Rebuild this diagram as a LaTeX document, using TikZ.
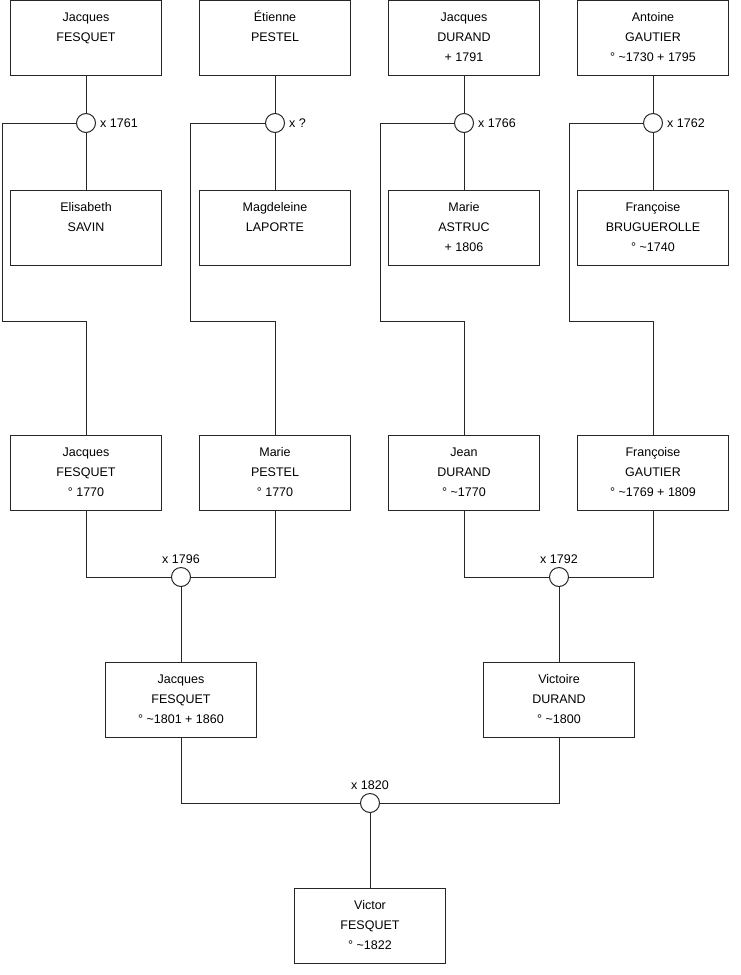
\documentclass[tikz,border=0pt]{standalone}
\usepackage{fontspec}
\setmainfont{Liberation Sans}
\usetikzlibrary{positioning}

\begin{document}
\begin{tikzpicture}[
    x=1pt, y=-1pt,
    font=\fontsize{12.5}{20}\selectfont,
    person/.style={
        rectangle, draw=black!85, line width=1pt,
        fill=white, inner sep=0pt,
        minimum width=151pt, minimum height=75pt,
        execute at begin node={\begin{minipage}[c][75pt][t]{151pt}\centering\rule{0pt}{20.5pt}},
        execute at end node={\end{minipage}}
    },
    union/.style={
        circle, draw=black!85, line width=1pt,
        fill=white, minimum size=19pt, inner sep=0pt
    },
    line/.style={draw=black!85, line width=1pt}
]
\useasboundingbox (0,0) rectangle (740,975);

% -------------------------
% 1. Great-grandparents
% -------------------------
\node[person] (JacquesF1) at (86, 38) {Jacques\\FESQUET};
\node[person] (EtienneP) at (275, 38) {Étienne\\PESTEL};
\node[person] (JacquesD) at (464, 38) {Jacques\\DURAND\\+ 1791};
\node[person] (AntoineG) at (653, 38) {Antoine\\GAUTIER\\° \textasciitilde1730 + 1795};

\node[union, label={[inner sep=4pt]right:x 1761}] (U1) at (86, 123) {};
\node[union, label={[inner sep=4pt]right:x ?}] (U2) at (275, 123) {};
\node[union, label={[inner sep=4pt]right:x 1766}] (U3) at (464, 123) {};
\node[union, label={[inner sep=4pt]right:x 1762}] (U4) at (653, 123) {};

\node[person] (ElisabethS) at (86, 228) {Elisabeth\\SAVIN};
\node[person] (MagdeleineL) at (275, 228) {Magdeleine\\LAPORTE};
\node[person] (MarieA) at (464, 228) {Marie\\ASTRUC\\+ 1806};
\node[person] (FrancoiseB) at (653, 228) {Françoise\\BRUGUEROLLE\\° \textasciitilde1740};

\draw[line] (JacquesF1) -- (U1) -- (ElisabethS);
\draw[line] (EtienneP) -- (U2) -- (MagdeleineL);
\draw[line] (JacquesD) -- (U3) -- (MarieA);
\draw[line] (AntoineG) -- (U4) -- (FrancoiseB);

% -------------------------
% 2. Grandparents
% -------------------------
\node[person] (JacquesF2) at (86, 473) {Jacques\\FESQUET\\° 1770};
\node[person] (MarieP) at (275, 473) {Marie\\PESTEL\\° 1770};
\node[person] (JeanD) at (464, 473) {Jean\\DURAND\\° \textasciitilde1770};
\node[person] (FrancoiseG) at (653, 473) {Françoise\\GAUTIER\\° \textasciitilde1769 + 1809};

\coordinate (R1) at (2, 321);
\coordinate (R2) at (190, 321);
\coordinate (R3) at (380, 321);
\coordinate (R4) at (569, 321);

\draw[line] (U1.west) -| (R1) -| (JacquesF2.north);
\draw[line] (U2.west) -| (R2) -| (MarieP.north);
\draw[line] (U3.west) -| (R3) -| (JeanD.north);
\draw[line] (U4.west) -| (R4) -| (FrancoiseG.north);

% -------------------------
% 3. Parents
% -------------------------
\node[union, label={[inner sep=3pt]above:x 1796}] (U5) at (181, 577) {};
\node[union, label={[inner sep=3pt]above:x 1792}] (U6) at (559, 577) {};

\node[person] (JacquesF3) at (181, 700) {Jacques\\FESQUET\\° \textasciitilde1801 + 1860};
\node[person] (VictoireD) at (559, 700) {Victoire\\DURAND\\° \textasciitilde1800};

\draw[line] (JacquesF2.south) |- (U5.west);
\draw[line] (MarieP.south) |- (U5.east);
\draw[line] (U5) -- (JacquesF3);

\draw[line] (JeanD.south) |- (U6.west);
\draw[line] (FrancoiseG.south) |- (U6.east);
\draw[line] (U6) -- (VictoireD);

% -------------------------
% 4. Victor
% -------------------------
\node[union, label={[inner sep=3pt]above:x 1820}] (U7) at (370, 803) {};
\node[person] (VictorF) at (370, 926) {Victor\\FESQUET\\° \textasciitilde1822};

\draw[line] (JacquesF3.south) |- (U7.west);
\draw[line] (VictoireD.south) |- (U7.east);
\draw[line] (U7) -- (VictorF);

\end{tikzpicture}
\end{document}
